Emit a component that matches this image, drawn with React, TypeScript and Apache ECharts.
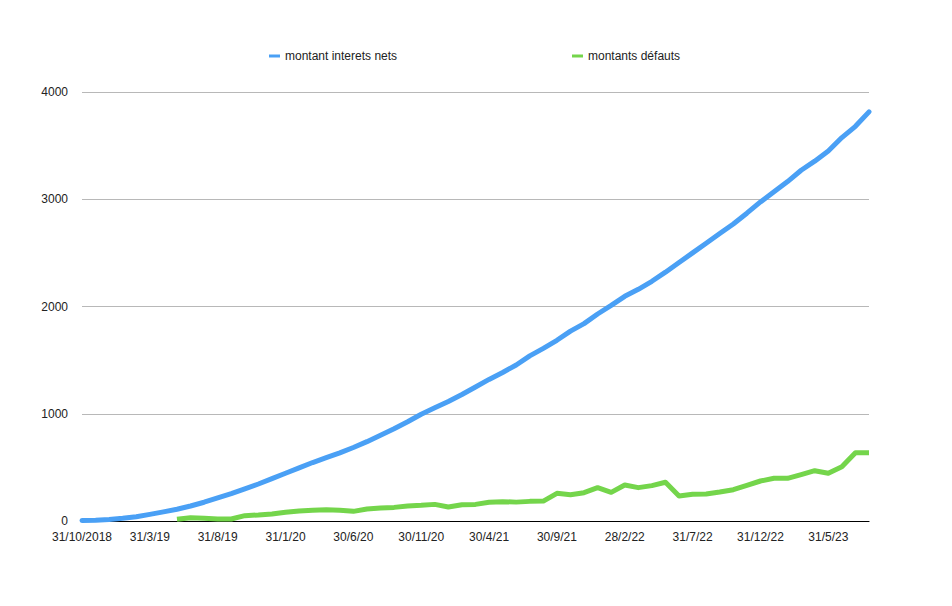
import React, { useEffect, useRef } from "react";
import * as echarts from "echarts";

const categories: string[] = [
  "31/10/2018", "30/11/18", "31/12/18",
  "31/1/19", "28/2/19", "31/3/19", "30/4/19", "31/5/19", "30/6/19", "31/7/19", "31/8/19", "30/9/19", "31/10/19", "30/11/19", "31/12/19",
  "31/1/20", "29/2/20", "31/3/20", "30/4/20", "31/5/20", "30/6/20", "31/7/20", "31/8/20", "30/9/20", "31/10/20", "30/11/20", "31/12/20",
  "31/1/21", "28/2/21", "31/3/21", "30/4/21", "31/5/21", "30/6/21", "31/7/21", "31/8/21", "30/9/21", "31/10/21", "30/11/21", "31/12/21",
  "31/1/22", "28/2/22", "31/3/22", "30/4/22", "31/5/22", "30/6/22", "31/7/22", "31/8/22", "30/9/22", "31/10/22", "30/11/22", "31/12/22",
  "31/1/23", "28/2/23", "31/3/23", "30/4/23", "31/5/23", "30/6/23", "31/7/23", "31/8/23",
];

const interetsNets: number[] = [
  5, 8, 14, 25, 40, 62, 85, 110, 140, 175,
  215, 255, 300, 345, 395, 445, 495, 545, 590, 635,
  685, 740, 800, 860, 925, 995, 1055, 1115, 1180, 1250,
  1320, 1385, 1455, 1540, 1610, 1685, 1770, 1840, 1930, 2010,
  2095, 2160, 2235, 2320, 2410, 2500, 2590, 2680, 2770, 2870,
  2975, 3070, 3165, 3270, 3355, 3450, 3575, 3680, 3815,
];

const defauts: (number | null)[] = [
  null, null, null, null, null, null, null, 16, 31, 25,
  19, 19, 50, 56, 66, 81, 93, 100, 106, 100,
  90, 112, 121, 127, 140, 146, 155, 130, 152, 155,
  174, 180, 176, 183, 186, 258, 245, 264, 311, 267,
  336, 311, 330, 361, 233, 249, 251, 270, 292, 333,
  373, 398, 398, 432, 469, 445, 506, 637, 637,
];

const yTicks = { min: 0, max: 4000, interval: 1000 };

const BLUE = "#4aa0f5";
const GREEN = "#74d54b";
const FONT = "Liberation Sans, Arial, Helvetica, sans-serif";

export default function App() {
  const ref = useRef<HTMLDivElement>(null);
  useEffect(() => {
    if (!ref.current) return;
    const chart = echarts.init(ref.current, null, { renderer: "svg" });
    chart.setOption({
      animation: false,
      backgroundColor: "#ffffff",
      textStyle: { fontFamily: FONT },
      legend: [
        {
          left: 264,
          top: 45,
          icon: "rect",
          itemWidth: 11,
          itemHeight: 3,
          itemGap: 8,
          textStyle: { fontSize: 12, color: "#222", fontFamily: FONT },
          data: ["montant interets nets"],
        },
        {
          left: 567,
          top: 45,
          icon: "rect",
          itemWidth: 11,
          itemHeight: 3,
          itemGap: 8,
          textStyle: { fontSize: 12, color: "#222", fontFamily: FONT },
          data: ["montants défauts"],
        },
      ],
      grid: { left: 82, right: 83, top: 92, bottom: 85, containLabel: false },
      xAxis: {
        type: "category",
        data: categories,
        boundaryGap: false,
        axisLine: { show: true, lineStyle: { color: "#000", width: 1.2 } },
        axisTick: { show: false },
        axisLabel: {
          interval: 4,
          margin: 10,
          fontSize: 12,
          color: "#222",
          fontFamily: FONT,
        },
        splitLine: { show: false },
      },
      yAxis: {
        type: "value",
        min: yTicks.min,
        max: yTicks.max,
        interval: yTicks.interval,
        axisLine: { show: false },
        axisTick: { show: false },
        axisLabel: {
          margin: 14,
          fontSize: 12,
          color: "#222",
          fontFamily: FONT,
          formatter: (v: number) => String(v),
        },
        splitLine: { show: true, lineStyle: { color: "#b8b8b8", width: 1 } },
      },
      series: [
        {
          name: "montant interets nets",
          type: "line",
          data: interetsNets,
          showSymbol: false,
          symbol: "none",
          color: BLUE,
          lineStyle: { width: 5, color: BLUE, cap: "round", join: "round" },
          z: 3,
        },
        {
          name: "montants défauts",
          type: "line",
          data: defauts,
          showSymbol: false,
          symbol: "none",
          color: GREEN,
          lineStyle: { width: 5, color: GREEN, cap: "butt", join: "round" },
          z: 2,
        },
      ],
    });
    return () => chart.dispose();
  }, []);
  return (
    <div
      ref={ref}
      style={{ position: "fixed", left: 0, top: 0, width: 952, height: 606 }}
    />
  );
}
